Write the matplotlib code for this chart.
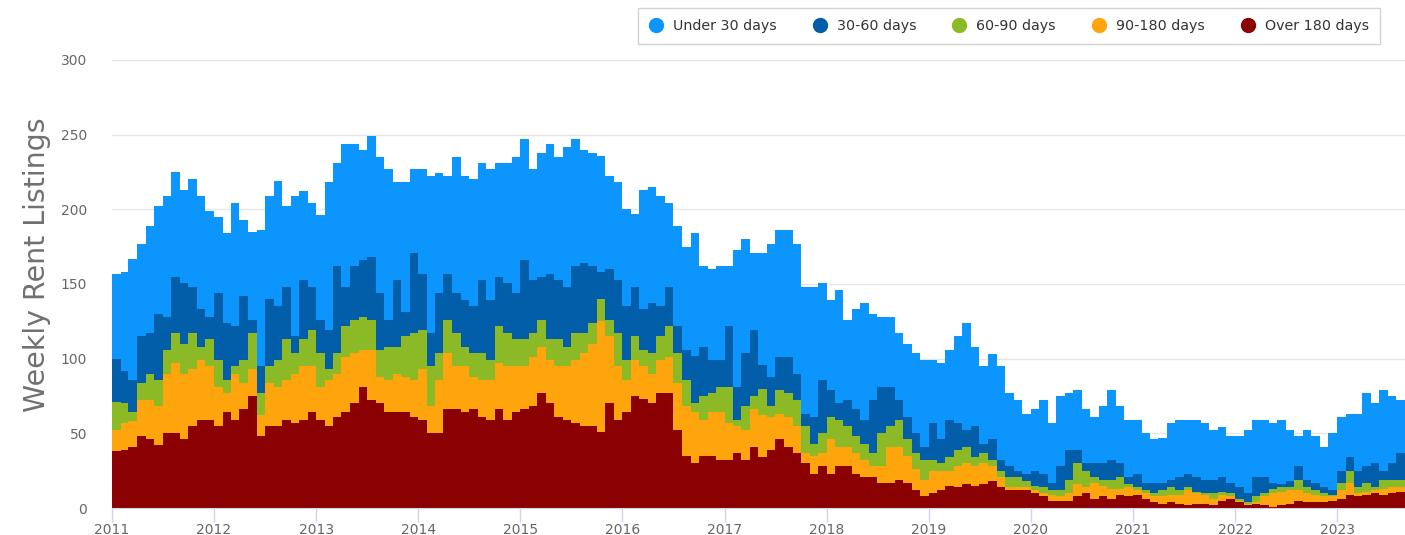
import matplotlib
matplotlib.use("Agg")
import matplotlib.pyplot as plt
from matplotlib.lines import Line2D
import numpy as np
import pandas as pd

# Monthly readings (Jan 2011 .. Aug 2023) of the weekly rent listings, by days on market
start_month = "2011-01-01"

over_180 = [38,39,41,48,46,42,50,50,46,55,
            59,59,55,64,59,66,75,48,55,55,
            59,57,59,64,59,55,61,64,70,81,
            72,70,64,64,64,61,59,50,50,66,
            66,64,66,61,59,66,59,64,66,68,
            77,70,61,59,57,55,55,51,70,59,
            64,75,73,70,77,77,52,35,30,35,
            35,32,32,37,32,41,34,39,46,41,
            37,30,23,28,23,28,28,23,21,21,
            17,17,19,17,12,8,10,12,15,14,
            16,15,16,18,14,12,12,12,10,8,
            5,5,5,8,10,6,8,6,9,8,
            9,6,4,3,4,3,2,3,3,2,
            5,6,4,2,3,2,1,2,3,5,
            4,4,4,5,6,9,8,9,10,9,10,11]

d90_180 = [14,18,17,24,26,26,40,47,44,38,
           40,36,26,13,31,18,18,14,29,26,
           27,33,36,31,22,31,29,37,34,25,
           34,18,22,26,24,25,34,18,36,38,
           29,31,22,25,27,31,36,31,29,33,
           31,29,34,36,42,49,55,74,45,36,
           22,24,22,20,22,24,32,33,34,24,
           29,32,25,18,20,25,28,22,17,20,
           18,7,12,9,23,13,13,14,11,7,
           11,24,22,18,14,11,15,13,10,14,
           14,13,14,10,7,2,2,2,2,2,
           4,3,5,8,4,11,7,7,4,6,
           3,4,4,5,5,6,10,7,6,4,
           4,2,1,1,1,6,9,9,9,7,
           6,5,4,3,6,8,2,2,2,4,4,3]

d60_90 = [19,13,6,12,18,18,16,20,20,24,
          9,18,18,9,5,15,24,15,11,18,
          27,14,18,24,23,7,14,21,22,22,
          20,18,22,18,27,31,26,27,18,22,
          22,13,16,18,13,25,22,18,18,16,
          18,14,18,13,18,13,14,15,11,22,
          13,16,11,14,16,21,20,18,6,16,
          13,17,24,4,16,9,18,7,16,16,
          17,18,8,13,15,18,14,11,11,9,
          22,14,18,11,11,13,7,5,9,11,
          11,6,7,4,4,7,7,4,3,4,
          3,4,9,14,11,4,4,6,8,2,
          2,2,2,4,5,3,2,1,1,4,
          2,2,1,1,4,2,3,3,2,7,
          4,3,2,1,5,8,4,6,2,6,5,5]

d30_60 = [29,22,22,31,27,44,22,38,41,31,
          25,15,45,38,27,43,9,18,45,36,
          35,11,40,29,22,26,58,26,36,38,
          42,38,18,45,16,54,38,22,40,31,
          27,31,31,49,40,33,34,31,53,36,
          29,44,40,40,45,47,38,18,34,36,
          36,33,27,33,20,26,18,20,32,33,
          22,18,41,22,36,44,16,20,22,24,
          18,8,18,36,18,11,17,18,16,35,
          31,26,13,15,13,9,25,16,25,18,
          11,21,6,14,7,7,4,5,10,9,
          5,16,20,9,5,9,11,13,9,5,
          9,5,7,5,5,9,9,10,9,9,
          10,7,8,6,13,11,4,2,4,9,
          5,5,4,3,8,9,11,11,16,6,11,18]

under_30 = [57,66,81,62,72,72,81,70,62,72,
            76,71,51,60,82,51,59,91,69,84,
            54,94,59,56,70,99,69,96,82,74,
            81,91,101,65,87,56,70,105,80,65,
            91,83,85,78,88,76,80,91,81,74,
            83,87,82,94,85,76,76,78,62,65,
            65,49,80,78,74,56,67,69,82,54,
            61,63,40,92,76,52,75,89,85,85,
            87,85,87,65,60,76,54,67,78,58,
            47,47,45,49,54,58,42,51,47,58,
            72,53,52,57,63,49,47,40,41,49,
            40,47,38,40,36,31,38,47,38,38,
            36,33,29,30,38,38,36,38,38,33,
            33,31,34,42,38,38,40,43,34,20,
            33,31,27,38,36,29,38,49,40,54,45,35]

series_names = ["Under 30 days", "30-60 days", "60-90 days", "90-180 days", "Over 180 days"]
series_colors = ["#0b95fd", "#025ea8", "#8cba27", "#fea50d", "#8b0000"]

year_ticks = list(range(2011, 2024))
y_ticks = [0, 50, 100, 150, 200, 250, 300]

# ---- figure ----
W, H = 1405, 535
fig = plt.figure(figsize=(W / 100, H / 100), dpi=100)
ax = fig.add_axes([112 / W, (H - 508) / H, (1405 - 112) / W, (508 - 60) / H])

n = len(under_30)
edges = pd.date_range(start_month, periods=n + 1, freq="MS")

# stack from bottom: over 180, 90-180, 60-90, 30-60, under 30
stack_order = [over_180, d90_180, d60_90, d30_60, under_30]
stack_colors = series_colors[::-1]
base = np.zeros(n)
for vals, col in zip(stack_order, stack_colors):
    v = np.asarray(vals, dtype=float)
    top = base + v
    ax.fill_between(edges, np.append(base, base[-1]), np.append(top, top[-1]),
                    step="post", color=col, linewidth=0, zorder=3)
    base = top

ax.set_xlim(edges[0], edges[-1])
ax.set_ylim(0, 300)

# grid
ax.set_yticks(y_ticks)
ax.yaxis.grid(True, color="#e6e6e6", linewidth=1, zorder=0)
ax.set_axisbelow(True)
for s in ["top", "right", "left"]:
    ax.spines[s].set_visible(False)
ax.spines["bottom"].set_color("#ccd6eb")
ax.spines["bottom"].set_zorder(5)

ax.tick_params(axis="y", length=0, labelsize=10, labelcolor="#666666", pad=18)
ax.set_xticks([pd.Timestamp(f"{y}-01-01") for y in year_ticks])
ax.set_xticklabels([str(y) for y in year_ticks])
ax.tick_params(axis="x", length=10, width=1, color="#ccd6eb", labelsize=10,
               labelcolor="#666666", pad=1)

fig.text(37 / W, 1 - 265 / H, "Weekly Rent Listings", rotation=90, ha="center",
         va="center", fontsize=20.5, color="#707070")

handles = [Line2D([0], [0], marker="o", linestyle="none", markersize=10,
                  markerfacecolor=c, markeredgecolor=c) for c in series_colors]
leg = fig.legend(handles, series_names, loc="upper right",
                 bbox_to_anchor=(1380 / W, 1 - 8 / H), ncol=5, frameon=True,
                 fontsize=10.3, handletextpad=0.69, columnspacing=2.5,
                 borderpad=0.78, handlelength=1.0, fancybox=False,
                 borderaxespad=0)
leg.get_frame().set_edgecolor("#c8c8c8")
leg.get_frame().set_linewidth(1)
for t in leg.get_texts():
    t.set_color("#333333")

fig.savefig("out.png", dpi=100)
